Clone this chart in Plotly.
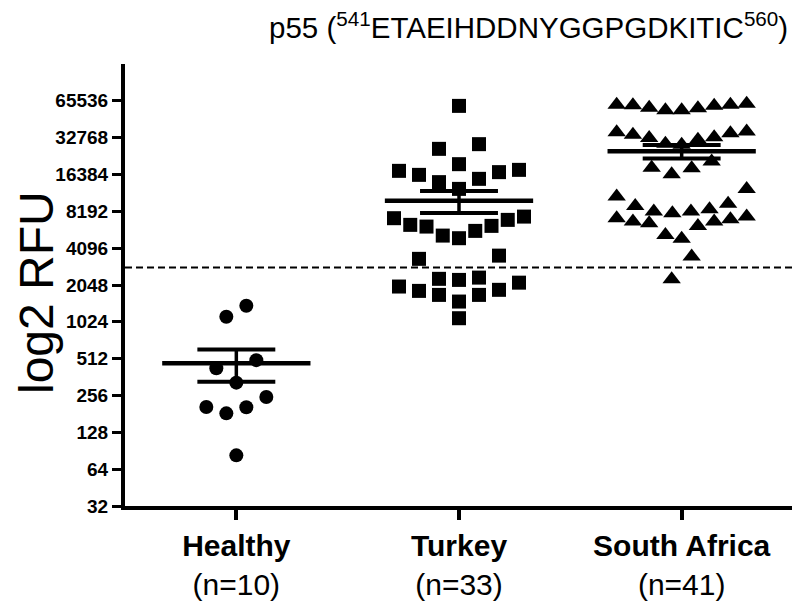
import numpy as np
import plotly.graph_objects as go

# ---------------- data (RFU values) ----------------
groups = ["Healthy", "Turkey", "South Africa"]
group_n = ["n=10", "n=33", "n=41"]

healthy = [1386, 1128, 498, 428, 326, 249, 205, 183, 206, 83]

turkey = [59600, 29000, 26550, 19900, 17550, 16270, 17130, 17880, 14190, 15100,
          12500, 6350, 6150, 7200, 7420, 6975, 6230, 5670, 5190, 4940,
          3350, 3560, 2300, 2140, 1870, 1700, 1700, 1500, 1833, 1990,
          2254, 2354, 1096]

south_africa = [60780, 60220, 57450, 54800, 54800, 56900, 59620, 60780, 61950,
                36760, 35660, 32970, 31450, 28620, 29170, 32610, 34560, 36220,
                18560, 18460, 20900, 16490, 12500,
                9430, 8530, 8150, 7910, 8150, 9075, 10820,
                7200, 6755, 6555, 6230, 6755, 7070, 7420,
                5260, 4880, 3495, 2285]

cutoff = 2850
y_ticks = [32, 64, 128, 256, 512, 1024, 2048, 4096, 8192, 16384, 32768, 65536]

series = [healthy, turkey, south_africa]
symbols = ["circle", "square", "triangle-up"]
sizes = [14, 14, 16]

# ---------------- layout constants ----------------
W, H = 800, 607
ML, MR, MT, MB = 117, 15, 56, 109
plot_w = W - ML - MR
plot_h = H - MT - MB
y_lo, y_hi = 5, 17           # log2 range
px_per_log2 = plot_h / (y_hi - y_lo)
px_per_x = plot_w / 3.0


def swarm(values, center, d=24.0):
    """Row-based beeswarm layout computed from the values (Prism-like)."""
    v = np.asarray(values, float)
    ly = np.log2(v) * px_per_log2
    order = np.argsort(-ly, kind="stable")
    rows, cur, start = [], [], None
    for i in order:
        if cur and start - ly[i] > d + 0.5:
            rows.append(cur)
            cur = []
        if not cur:
            start = ly[i]
        cur.append(i)
    if cur:
        rows.append(cur)
    xs = np.zeros(len(v))
    for row in rows:
        n = len(row)
        sp = min(20.0, 130.0 / (n - 1)) if n > 1 else 0.0
        slots = sorted([(k - (n - 1) / 2) * sp for k in range(n)], key=lambda s: (abs(s), s))
        row_sorted = sorted(row, key=lambda i: v[i])
        for i, s in zip(row_sorted, slots):
            xs[i] = center + s / px_per_x
    return xs


fig = go.Figure()

# cutoff dashed line
fig.add_trace(go.Scatter(x=[-0.5, 2.5], y=[cutoff, cutoff], mode="lines",
                         line=dict(color="black", width=2, dash="7px,4px"),
                         hoverinfo="skip", showlegend=False))

for gi, vals in enumerate(series):
    xs = swarm(vals, gi)
    fig.add_trace(go.Scatter(x=xs, y=vals, mode="markers",
                             marker=dict(symbol=symbols[gi], size=sizes[gi], color="black",
                                         line=dict(width=0)),
                             showlegend=False, name=groups[gi]))
    arr = np.asarray(vals, float)
    mean = arr.mean()
    sem = arr.std(ddof=1) / np.sqrt(len(arr))
    hw_mean, hw_sem = 0.333, 0.175
    # mean line
    fig.add_trace(go.Scatter(x=[gi - hw_mean, gi + hw_mean], y=[mean, mean], mode="lines",
                             line=dict(color="black", width=4.5), showlegend=False, hoverinfo="skip"))
    # SEM caps and stem
    for yy in (mean + sem, mean - sem):
        fig.add_trace(go.Scatter(x=[gi - hw_sem, gi + hw_sem], y=[yy, yy], mode="lines",
                                 line=dict(color="black", width=4), showlegend=False, hoverinfo="skip"))
    fig.add_trace(go.Scatter(x=[gi, gi], y=[mean - sem, mean + sem], mode="lines",
                             line=dict(color="black", width=3.5), showlegend=False, hoverinfo="skip"))

tick_text_x = [f"<b>{g}</b><br>({n})" for g, n in zip(groups, group_n)]

fig.update_layout(
    width=W, height=H,
    margin=dict(l=ML, r=MR, t=MT, b=MB, autoexpand=False),
    paper_bgcolor="white", plot_bgcolor="white",
    font=dict(family="Liberation Sans, Arial, sans-serif", color="black"),
    xaxis=dict(range=[-0.5, 2.5], tickmode="array", tickvals=[0, 1, 2], ticktext=tick_text_x,
               showline=True, linewidth=4, linecolor="black", ticks="outside", ticklen=10,
               tickwidth=4, tickcolor="black", showgrid=False, zeroline=False,
               tickfont=dict(size=30, color="black")),
    yaxis=dict(type="log", range=[y_lo * np.log10(2), y_hi * np.log10(2)], tickmode="array",
               tickvals=y_ticks, ticktext=[str(t) for t in y_ticks],
               showline=True, linewidth=4, linecolor="black", ticks="outside", ticklen=9,
               tickwidth=3, tickcolor="black", showgrid=False, zeroline=False,
               tickfont=dict(size=19, color="black", weight="bold")),
)

fig.add_annotation(text="log2 RFU", xref="paper", yref="paper",
                   x=(28 - ML) / plot_w, y=1 - (285 - MT) / plot_h, xanchor="center", yanchor="middle",
                   textangle=-90, showarrow=False, font=dict(size=48, color="black"))

fig.add_annotation(text="p55 (<sup>541</sup>ETAEIHDDNYGGPGDKITIC<sup>560</sup>)",
                   xref="paper", yref="paper", x=(259 - ML) / plot_w, y=1 + (MT - 17) / plot_h,
                   xanchor="left", yanchor="middle", showarrow=False,
                   font=dict(size=29.5, color="black"))

fig.write_html("out.html")
